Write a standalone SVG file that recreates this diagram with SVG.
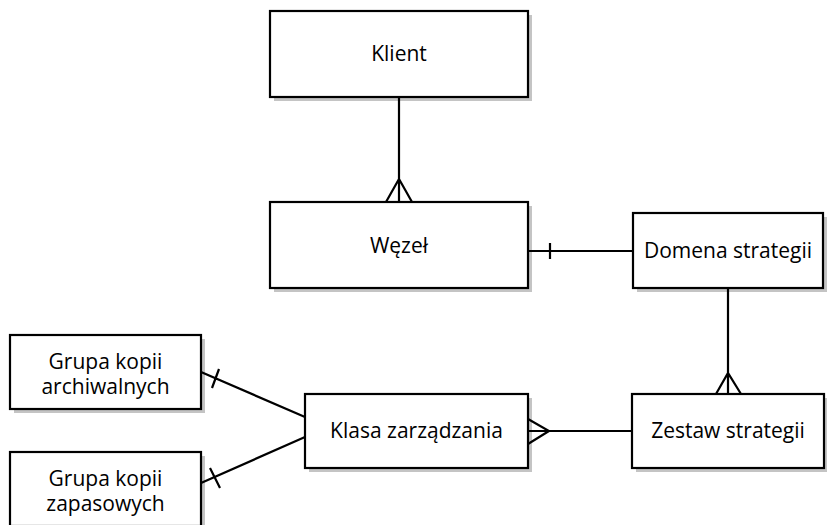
<svg xmlns="http://www.w3.org/2000/svg" width="827" height="525" viewBox="0 0 827 525">
<style>
.box{fill:#fff;stroke:#000;stroke-width:2.2}
.sh{fill:#c4c4c4}
.t{font-family:"Open Sans","Noto Sans",sans-serif;font-size:21px;fill:#000;text-anchor:middle}
.c{fill:none;stroke:#000;stroke-width:2.2}
</style>
<rect width="827" height="525" fill="#fff"/>
<g id="klient"><rect class="sh" x="274" y="15" width="258" height="86"/><rect class="box" x="270" y="11" width="258" height="86"/><text class="t" x="399" y="61">Klient</text></g>
<g id="wezel"><rect class="sh" x="274" y="206" width="258" height="86"/><rect class="box" x="270" y="202" width="258" height="86"/><text class="t" x="399" y="253">Węzeł</text></g>
<g id="domena"><rect class="sh" x="637" y="217" width="190" height="75"/><rect class="box" x="633" y="213" width="190" height="75"/><text class="t" x="728" y="258">Domena strategii</text></g>
<g id="zestaw"><rect class="sh" x="636" y="398" width="192" height="74"/><rect class="box" x="632" y="394" width="192" height="74"/><text class="t" x="728" y="438">Zestaw strategii</text></g>
<g id="klasa"><rect class="sh" x="309" y="398" width="223" height="74"/><rect class="box" x="305" y="394" width="223" height="74"/><text class="t" x="416.5" y="438">Klasa zarządzania</text></g>
<g id="archiwalne"><rect class="sh" x="14" y="339" width="191" height="74"/><rect class="box" x="10" y="335" width="191" height="74"/><text class="t" x="105.5" y="369">Grupa kopii</text><text class="t" x="105.5" y="394">archiwalnych</text></g>
<g id="zapasowe"><rect class="sh" x="14" y="456" width="191" height="74"/><rect class="box" x="10" y="452" width="191" height="74"/><text class="t" x="105.5" y="486">Grupa kopii</text><text class="t" x="105.5" y="511">zapasowych</text></g>
<g id="connectors">
<path class="c" d="M399 97V202M386 202L399 179L412 202"/>
<path class="c" d="M528 251H633M550 243V259"/>
<path class="c" d="M728 288V394M716 394L728 373L741 394"/>
<path class="c" d="M528 431H632M528 419L549 431L528 444"/>
<path class="c" d="M201 372L305 417M219 369L212 388"/>
<path class="c" d="M201 483L305 437M210 468L220 488"/>
</g>
</svg>
